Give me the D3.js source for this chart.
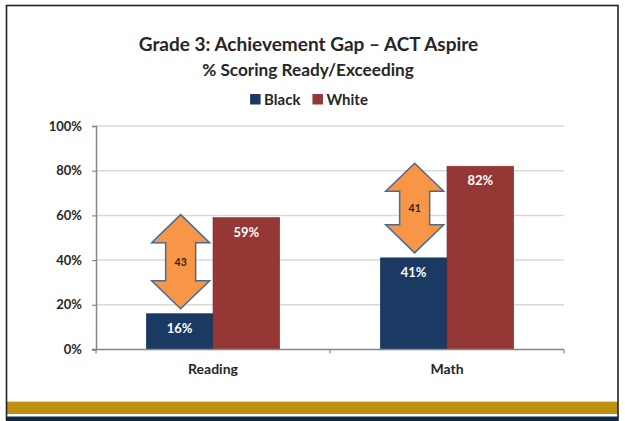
<!DOCTYPE html>
<html>
<head>
<meta charset="utf-8">
<script src="https://cdn.jsdelivr.net/npm/d3@7"></script>
<style>
  html, body { margin: 0; padding: 0; background: #fff; }
  svg { display: block; }
  text { font-family: Lato, "Open Sans", "DejaVu Sans", sans-serif; font-weight: 700; }
</style>
</head>
<body>
<svg id="chart" width="625" height="421"></svg>
<script>
// ---- data ----
const categories = ["Reading", "Math"];
const seriesNames = ["Black", "White"];
const blackValues = [0.16, 0.41];
const whiteValues = [0.59, 0.82];
const yTickValues = [0, 0.2, 0.4, 0.6, 0.8, 1.0];
const titleText = "Grade 3: Achievement Gap \u2013 ACT Aspire";
const subtitleText = "% Scoring Ready/Exceeding";

const colors = { Black: "#1B3A63", White: "#953735" };

const svg = d3.select("#chart");

// frame and footer bands
svg.append("rect").attr("x", 7).attr("y", 402).attr("width", 611).attr("height", 12).attr("fill", "#BF9010");
svg.append("rect").attr("x", 7).attr("y", 401).attr("width", 611).attr("height", 1).attr("fill", "#E6D7A6");
svg.append("rect").attr("x", 7).attr("y", 416.5).attr("width", 611).attr("height", 5).attr("fill", "#10283F");
svg.append("rect").attr("x", 6.5).attr("y", 5.5).attr("width", 611.5).attr("height", 430)
  .attr("fill", "none").attr("stroke", "#222").attr("stroke-width", 1.6);

// titles
svg.append("text").attr("x", 308.5).attr("y", 51).attr("text-anchor", "middle")
  .attr("font-size", 19).attr("fill", "#262626").text(titleText);
svg.append("text").attr("x", 308).attr("y", 75.5).attr("text-anchor", "middle")
  .attr("font-size", 17.2).attr("fill", "#262626").text(subtitleText);

// legend
const legend = svg.append("g");
let lx = 0;
seriesNames.forEach((name, i) => {
  const g = legend.append("g").attr("transform", `translate(${lx},0)`);
  g.append("rect").attr("x", 0).attr("y", 94).attr("width", 10.5).attr("height", 10.5).attr("fill", colors[name]);
  const t = g.append("text").attr("x", 14).attr("y", 104.5).attr("font-size", 15).attr("fill", "#262626").text(name);
  lx += 14 + t.node().getComputedTextLength() + 12;
});
const legendW = lx - 12;
legend.attr("transform", `translate(${309 - legendW / 2},0)`);

// scales
const x0 = d3.scaleBand().domain(categories).range([96, 564]).padding(0);
const x1 = d3.scaleBand().domain(seriesNames)
  .range([x0.bandwidth() * 0.215, x0.bandwidth() * 0.785]).padding(0);
const y = d3.scaleLinear().domain([0, 1]).range([349.5, 126]);

// gridlines
svg.append("g").selectAll("line").data(yTickValues.filter(d => d > 0)).join("line")
  .attr("x1", 96).attr("x2", 564).attr("y1", d => y(d)).attr("y2", d => y(d))
  .attr("stroke", "#D9D9D9").attr("stroke-width", 1.5);

// y axis
const yAxis = d3.axisLeft(y).tickValues(yTickValues).tickFormat(d3.format(".0%")).tickSize(4).tickPadding(10);
const yg = svg.append("g").attr("transform", "translate(96,0)").call(yAxis);
yg.select(".domain").attr("stroke", "#868686").attr("stroke-width", 1.5);
yg.selectAll(".tick line").attr("stroke", "#868686").attr("stroke-width", 1.2);
yg.selectAll(".tick text").attr("font-size", 13).attr("fill", "#262626")
  .attr("font-family", "Lato, sans-serif").attr("font-weight", 700);

// bars
const data = categories.map((c, i) => ({ cat: c, Black: blackValues[i], White: whiteValues[i] }));
const groups = svg.append("g").selectAll("g").data(data).join("g")
  .attr("transform", d => `translate(${x0(d.cat)},0)`);
groups.selectAll("rect").data(d => seriesNames.map(s => ({ s, v: d[s] }))).join("rect")
  .attr("x", d => x1(d.s)).attr("width", x1.bandwidth())
  .attr("y", d => y(d.v)).attr("height", d => y(0) - y(d.v))
  .attr("fill", d => colors[d.s])
  .attr("stroke", d => d3.color(colors[d.s]).darker(0.4)).attr("stroke-width", 0.6);
groups.selectAll("text.val").data(d => seriesNames.map(s => ({ s, v: d[s] }))).join("text")
  .attr("class", "val")
  .attr("x", d => x1(d.s) + x1.bandwidth() / 2).attr("y", d => y(d.v) + 19)
  .attr("text-anchor", "middle").attr("font-size", 13).attr("fill", "#fff")
  .text(d => d3.format(".0%")(d.v));

// x axis
const xg = svg.append("g");
xg.append("line").attr("x1", 92).attr("x2", 564).attr("y1", y(0)).attr("y2", y(0))
  .attr("stroke", "#868686").attr("stroke-width", 1.5);
xg.selectAll("line.tk").data([96, 96 + x0.step(), 96 + 2 * x0.step()]).join("line").attr("class", "tk")
  .attr("x1", d => d).attr("x2", d => d).attr("y1", y(0)).attr("y2", y(0) + 4)
  .attr("stroke", "#868686").attr("stroke-width", 1.2);
xg.selectAll("text").data(categories).join("text")
  .attr("x", d => x0(d) + x0.bandwidth() / 2).attr("y", 374)
  .attr("text-anchor", "middle").attr("font-size", 14).attr("fill", "#262626").text(d => d);

// gap arrows
function arrowPath(cx, yTop, yBot, w, s, head) {
  return d3.line()([
    [cx, yTop], [cx + w / 2, yTop + head], [cx + s / 2, yTop + head],
    [cx + s / 2, yBot - head], [cx + w / 2, yBot - head], [cx, yBot],
    [cx - w / 2, yBot - head], [cx - s / 2, yBot - head], [cx - s / 2, yTop + head],
    [cx - w / 2, yTop + head]
  ]) + "Z";
}
const arrows = svg.append("g").selectAll("g").data(data).join("g");
arrows.append("path")
  .attr("d", d => {
    const cx = x0(d.cat) + x1("Black") + x1.bandwidth() / 2 + 1;
    return arrowPath(cx, y(d.White) - 3, y(d.Black) - 5, 58, 30, 28);
  })
  .attr("fill", "#F79646").attr("stroke", "#4A6A92").attr("stroke-width", 1.5)
  .attr("stroke-linejoin", "miter");
arrows.append("text")
  .attr("x", d => x0(d.cat) + x1("Black") + x1.bandwidth() / 2 + 1)
  .attr("y", d => (y(d.White) - 3 + y(d.Black) - 5) / 2 + 4)
  .attr("text-anchor", "middle").attr("font-size", 10.5).attr("font-weight", 900).attr("fill", "#2a1f14")
  .text(d => Math.round((d.White - d.Black) * 100));
</script>
</body>
</html>
